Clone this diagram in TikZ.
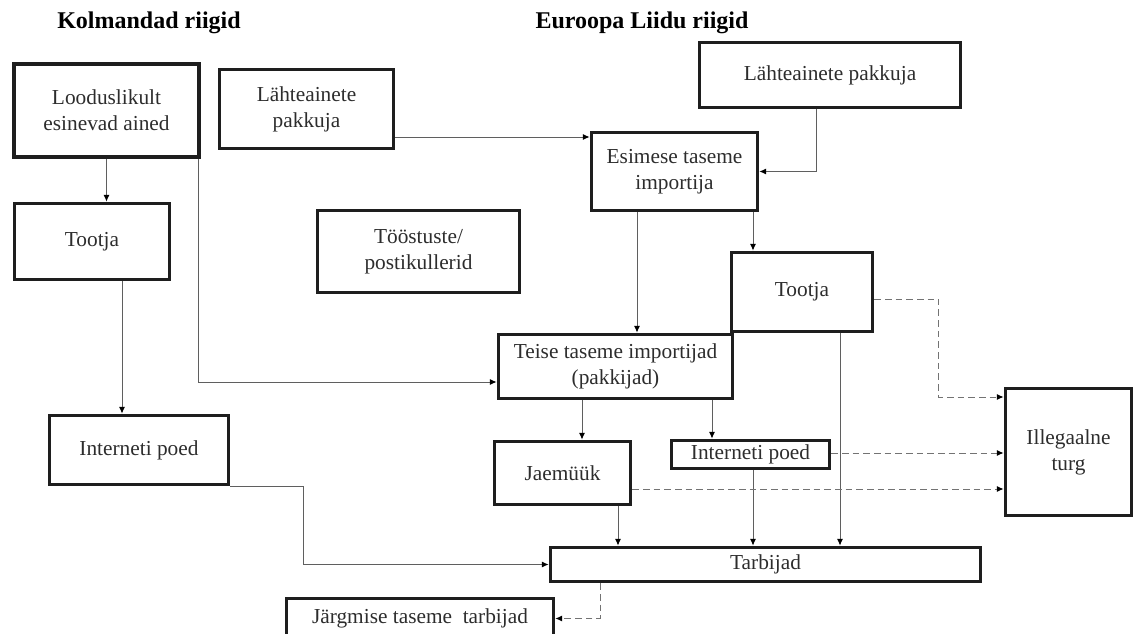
\documentclass[tikz,border=0pt]{standalone}
\usepackage{fontspec}
\setmainfont{Liberation Serif}
\usetikzlibrary{arrows.meta,calc}
\definecolor{bordc}{RGB}{30,30,30}
\definecolor{txtc}{RGB}{45,45,45}
\definecolor{linec}{RGB}{95,95,95}
\definecolor{dashc}{RGB}{115,115,115}
\begin{document}
\begin{tikzpicture}[x=0.75pt,y=-0.75pt,
  box/.style={draw=bordc, line width=2.2pt, align=center, inner sep=0pt, text=txtc,
    font=\fontsize{16}{19.5}\selectfont},
  heavy/.style={line width=3pt},
  wh/.style n args={2}{minimum width=#1*0.75pt-1.6pt, minimum height=#2*0.75pt-1.6pt},
  title/.style={font=\fontsize{18}{21}\selectfont\bfseries, text=black, inner sep=0pt},
  conn/.style={draw=linec, line width=0.7pt, -{Latex[length=5pt,width=4.5pt,color=black]}},
  dconn/.style={conn, draw=dashc, dash pattern=on 5pt off 3pt}]
\useasboundingbox (0,0) rectangle (1135,634);
\clip (0,0) rectangle (1135,634);

% titles
\node[title] (t1) at (149,23) {Kolmandad riigid};
\node[title] (t2) at (642,23) {Euroopa Liidu riigid};

% boxes
\node[box,heavy,wh={187}{95}] (lood)  at (106.5,110.5) {Looduslikult\\esinevad ained};
\node[box,wh={177}{82}]  (lahtL) at (306.5,109)   {Lähteainete\\pakkuja};
\node[box,wh={264}{68}]  (lahtR) at (830,75)      {Lähteainete pakkuja};
\node[box,wh={169}{81}]  (esim)  at (674.5,171.5) {Esimese taseme\\importija};
\node[box,wh={158}{79}]  (tootL) at (92,241.5)    {Tootja};
\node[box,wh={205}{85}]  (toost) at (418.5,251.5) {Tööstuste/\\postikullerid};
\node[box,wh={144}{82}]  (tootR) at (802,292)     {Tootja};
\node[box,wh={237}{67}]  (teise) at (615.5,366.5) {Teise taseme importijad\\(pakkijad)};
\node[box,wh={129}{130}] (ill)   at (1068.5,452)  {Illegaalne\\turg};
\node[box,wh={182}{72}]  (intL)  at (139,450)     {Interneti poed};
\node[box,wh={139}{66}]  (jae)   at (562.5,473)   {Jaemüük};
\node[box,wh={161}{31}]  (intR)  at (750.5,454.5) {Interneti poed};
\node[box,wh={433}{37}]  (tarb)  at (765.5,564.5) {Tarbijad};
\node[box,wh={270}{43}]  (jarg)  at (420,618.5)   {Järgmise taseme\ \ tarbijad};

% solid connectors
\draw[conn] (lood.south) -- (lood.south |- tootL.north);
\coordinate (c0) at ($(lood.south east)+(-2,0)$);
\coordinate (c0b) at ($(teise.west)+(0,15.5)$);
\draw[conn] (c0) |- (c0b);
\coordinate (c1) at ($(lahtL.east)+(0,28)$);
\draw[conn] (c1) -- (c1 -| esim.west);
\coordinate (c2) at ($(lahtR.south)+(-14,0)$);
\draw[conn] (c2) |- (esim.east);
\coordinate (c3) at ($(esim.south)+(78.5,0)$);
\draw[conn] (c3) -- (c3 |- tootR.north);
\coordinate (c4) at ($(esim.south)+(-37.5,0)$);
\draw[conn] (c4) -- (c4 |- teise.north);
\coordinate (c5) at ($(tootL.south)+(30,0)$);
\draw[conn] (c5) -- (c5 |- intL.north);
\coordinate (c6) at ($(intL.south east)+(73,0)$);
\draw[conn] (intL.south east) -- (c6) |- (tarb.west);
\coordinate (c7) at ($(teise.south)+(-33.5,0)$);
\draw[conn] (c7) -- (c7 |- jae.north);
\coordinate (c8) at ($(teise.south)+(96.5,0)$);
\draw[conn] (c8) -- (c8 |- intR.north);
\coordinate (c9) at ($(jae.south)+(55.5,0)$);
\draw[conn] (c9) -- (c9 |- tarb.north);
\coordinate (c10) at ($(intR.south)+(2.5,0)$);
\draw[conn] (c10) -- (c10 |- tarb.north);
\coordinate (c11) at ($(tootR.south)+(38,0)$);
\draw[conn] (c11) -- (c11 |- tarb.north);

% dashed connectors
\coordinate (d1) at ($(tootR.east)+(0,7)$);
\coordinate (d1b) at ($(ill.west)+(-65,-55)$);
\draw[dconn] (d1) -| (d1b) -- (d1b -| ill.west);
\coordinate (d2) at ($(intR.east)+(0,-1.5)$);
\draw[dconn] (d2) -- (d2 -| ill.west);
\coordinate (d3) at ($(jae.east)+(0,16)$);
\draw[dconn] (d3) -- (d3 -| ill.west);
\coordinate (d4) at ($(tarb.south)+(-165.5,0)$);
\draw[dconn] (d4) |- (jarg.east);
\end{tikzpicture}
\end{document}
